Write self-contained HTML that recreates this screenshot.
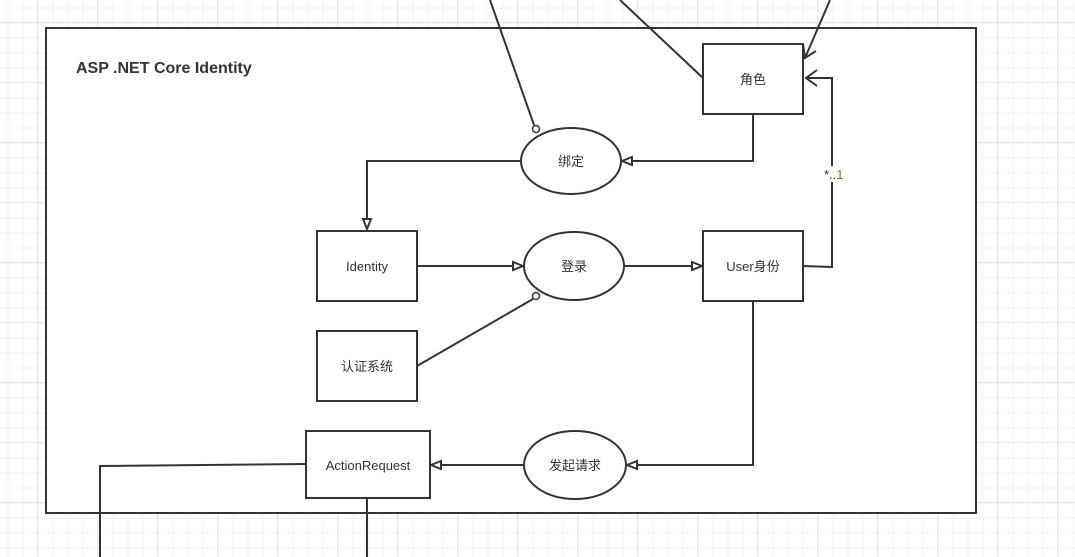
<!DOCTYPE html>
<html><head><meta charset="utf-8"><style>
html,body{margin:0;padding:0;background:#fff;}
svg{display:block;}
text{font-family:"Liberation Sans","Noto Sans CJK SC",sans-serif;fill:#333;font-size:13px;}
</style></head><body>
<svg width="1075" height="557" viewBox="0 0 1075 557" xmlns="http://www.w3.org/2000/svg">
<defs>
<pattern id="minor" x="7.5" y="7.5" width="15" height="15" patternUnits="userSpaceOnUse">
<path d="M0 0.5H15M0.5 0V15" stroke="#f0f0f0" stroke-width="1" fill="none"/>
</pattern>
<pattern id="major" x="37" y="22" width="60" height="60" patternUnits="userSpaceOnUse">
<path d="M0 0.5H60M0.5 0V60" stroke="#e6e6e6" stroke-width="1" fill="none"/>
</pattern>
</defs>
<rect width="1075" height="557" fill="url(#minor)"/>
<rect width="1075" height="557" fill="url(#major)"/>
<rect x="46" y="28" width="930" height="485" fill="#fff" stroke="#333" stroke-width="2"/>
<text x="76" y="73" style="font-size:16px;font-weight:bold;">ASP .NET Core Identity</text>

<g stroke="#333" stroke-width="2" fill="none">
<line x1="490" y1="0" x2="534" y2="125"/>
<line x1="620" y1="0" x2="703" y2="78"/>
<line x1="830" y1="0" x2="805" y2="58"/>
<path d="M803 44 L805 58 L816 51"/>
<path d="M753 114 V161 H632"/>
<path d="M521 161 H367 V219"/>
<path d="M417 266 H513"/>
<path d="M624 266 H692"/>
<path d="M803 266 L832 267 V78 H806"/>
<path d="M817 70 L806 78 L817 86"/>
<line x1="417" y1="366" x2="533" y2="299"/>
<path d="M753 301 V465 H637"/>
<path d="M524 465 H441"/>
<path d="M306 464 L100 466 V557"/>
<path d="M367 498 V557"/>
</g>
<g stroke="#333" stroke-width="2" fill="#fff">
<polygon points="632,157 622,161 632,165"/>
<polygon points="363,219 367,229 371,219"/>
<polygon points="513,262 523,266 513,270"/>
<polygon points="692,262 702,266 692,270"/>
<polygon points="441,461 431,465 441,469"/>
<polygon points="637,461 627,465 637,469"/>
<rect x="703" y="44" width="100" height="70"/>
<ellipse cx="571" cy="161" rx="50" ry="33"/>
<rect x="317" y="231" width="100" height="70"/>
<ellipse cx="574" cy="266" rx="50" ry="34"/>
<rect x="703" y="231" width="100" height="70"/>
<rect x="317" y="331" width="100" height="70"/>
<rect x="306" y="431" width="124" height="67"/>
<ellipse cx="575" cy="465" rx="51" ry="34"/>
<circle cx="536" cy="129" r="3.5" stroke-width="1.5"/>
<circle cx="536" cy="296" r="3.5" stroke-width="1.5"/>
</g>
<rect x="822" y="166" width="22" height="16" fill="#fff"/>
<text x="824" y="179">*..<tspan fill="#b06010">1</tspan></text>
<g text-anchor="middle">
<text x="753" y="84">角色</text>
<text x="571" y="166">绑定</text>
<text x="367" y="271">Identity</text>
<text x="574" y="271">登录</text>
<text x="753" y="271">User身份</text>
<text x="367" y="371">认证系统</text>
<text x="368" y="470">ActionRequest</text>
<text x="575" y="470">发起请求</text>
</g>
</svg>
</body></html>
